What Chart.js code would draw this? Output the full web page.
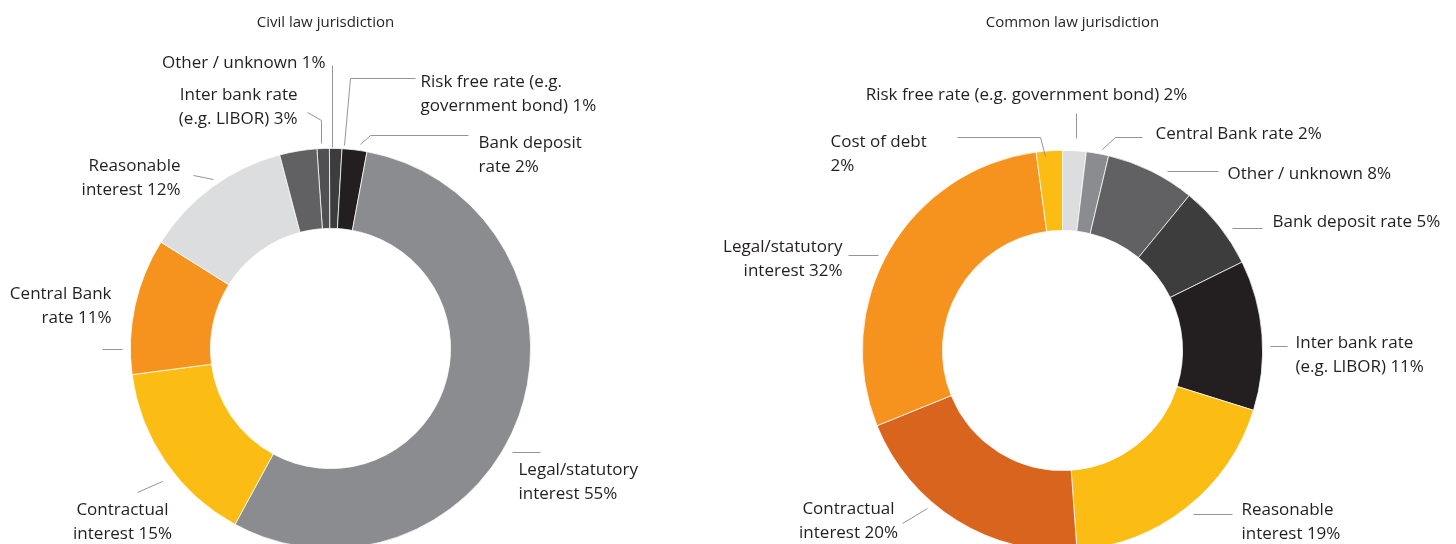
<!DOCTYPE html>
<html>
<head>
<meta charset="utf-8">
<title>Interest rate basis by jurisdiction</title>
<script src="https://cdn.jsdelivr.net/npm/chart.js@4.4.1/dist/chart.umd.min.js"></script>
<style>
  html, body { margin: 0; padding: 0; background: #fff; }
  body { width: 1456px; height: 544px; overflow: hidden; position: relative; }
  canvas { position: absolute; top: 0; }
  #civil { left: 0; }
  #common { left: 680px; }
</style>
</head>
<body>
<canvas id="civil" width="680" height="600"></canvas>
<canvas id="common" width="776" height="600"></canvas>

<script>
// --- data ---
const civilTitle = 'Civil law jurisdiction';
const civilLabels = [
  'Other / unknown 1%',
  'Risk free rate (e.g.\ngovernment bond) 1%',
  'Bank deposit\nrate 2%',
  'Legal/statutory\ninterest 55%',
  'Contractual\ninterest 15%',
  'Central Bank\nrate 11%',
  'Reasonable\ninterest 12%',
  'Inter bank rate\n(e.g. LIBOR) 3%'
];
const civilValues = [1, 1, 2, 55, 15, 11, 12, 3];

const commonTitle = 'Common law jurisdiction';
const commonLabels = [
  'Risk free rate (e.g. government bond) 2%',
  'Central Bank rate 2%',
  'Other / unknown 8%',
  'Bank deposit rate 5%',
  'Inter bank rate\n(e.g. LIBOR) 11%',
  'Reasonable\ninterest 19%',
  'Contractual\ninterest 20%',
  'Legal/statutory\ninterest 32%',
  'Cost of debt\n2%'
];
// slice sizes as drawn in the picture (printed percentages don't quite add up)
const commonValues = [1.9, 1.8, 7.2, 6.8, 12.1, 19, 20, 29, 2.1];

// --- styles ---
const civilColors = ['#505052', '#3c3c3e', '#231f20', '#8b8c8f', '#fbbd14', '#f6921e', '#dcdddf', '#616163'];
const commonColors = ['#dcdddf', '#8b8c8f', '#616163', '#3d3d3e', '#231f20', '#fbbd14', '#d9641e', '#f6921e', '#fbbd14'];

const textColor = '#231f20';
const leaderColor = '#939598';
const labelFont = '17px "Open Sans"';
const titleFont = '15px "Open Sans"';
const lineH = 24;

// label placement, offsets from the doughnut centre: [x, y, align, leader points]
const civilCallouts = [
  [-5, -285, 'right', [[2, -283], [2, -201]]],
  [90, -266, 'left', [[14, -203], [20, -270], [85, -270]]],
  [148, -205, 'left', [[30, -204], [40, -213], [138, -213]]],
  [188, 122, 'left', [[182, 104], [210, 104]]],
  [-208, 162, 'center', [[-193, 144], [-168, 133]]],
  [-219, -54, 'right', [[-228, 1], [-208, 1]]],
  [-150, -182, 'right', [[-137, -173], [-117, -169]]],
  [-33, -253, 'right', [[-23, -236], [-9, -228], [-9, -205]]]
];
const commonCallouts = [
  [-36, -255, 'center', [[14, -237], [14, -212]]],
  [93, -216, 'left', [[40, -201], [53, -213], [80, -213]]],
  [165, -176, 'left', [[105, -179], [156, -179]]],
  [210, -128, 'left', [[170, -122], [200, -122]]],
  [233, -7, 'left', [[208, -4], [225, -4]]],
  [179, 160, 'left', [[131, 164], [170, 164]]],
  [-214, 159, 'center', [[-160, 173], [-135, 158]]],
  [-220, -103, 'right', [[-214, -95], [-184, -95]]],
  [-232, -208, 'left', [[-105, -213], [-22, -213], [-17, -194]]]
];

const calloutPlugin = {
  id: 'callouts',
  afterDraw(chart, args, opts) {
    const ctx = chart.ctx;
    const arc = chart.getDatasetMeta(0).data[0];
    const cx = arc.x, cy = arc.y;
    ctx.save();

    // title
    ctx.font = titleFont;
    ctx.fillStyle = textColor;
    ctx.textAlign = 'center';
    ctx.textBaseline = 'middle';
    ctx.fillText(opts.title, cx + opts.titleDx, cy + opts.titleDy);

    ctx.strokeStyle = leaderColor;
    ctx.lineWidth = 1;
    ctx.font = labelFont;
    chart.data.labels.forEach((label, i) => {
      const [tx, ty, align, pts] = opts.callouts[i];
      ctx.beginPath();
      pts.forEach(([px, py], j) => {
        if (j === 0) ctx.moveTo(cx + px, cy + py);
        else ctx.lineTo(cx + px, cy + py);
      });
      ctx.stroke();
      ctx.textAlign = align;
      label.split('\n').forEach((line, k) => {
        ctx.fillText(line, cx + tx, cy + ty + k * lineH);
      });
    });
    ctx.restore();
  }
};

function makeDoughnut(id, labels, values, colors, rotation, padding, calloutOpts) {
  return new Chart(document.getElementById(id), {
    type: 'doughnut',
    data: {
      labels: labels,
      datasets: [{
        data: values,
        backgroundColor: colors,
        borderColor: '#ffffff',
        borderWidth: 0.75,
        hoverOffset: 0
      }]
    },
    options: {
      responsive: false,
      animation: false,
      cutout: '60%',
      rotation: rotation,
      layout: { padding: padding },
      plugins: {
        legend: { display: false },
        tooltip: { enabled: false },
        callouts: calloutOpts
      }
    },
    plugins: [calloutPlugin]
  });
}

document.fonts.load(labelFont).then(() => {
  makeDoughnut('civil', civilLabels, civilValues, civilColors, -3.9,
    { left: 130, top: 148, right: 149, bottom: 51 },
    { title: civilTitle, titleDx: -5, titleDy: -326, callouts: civilCallouts });
  makeDoughnut('common', commonLabels, commonValues, commonColors, 0,
    { left: 182, top: 150, right: 193, bottom: 49 },
    { title: commonTitle, titleDx: 10, titleDy: -328, callouts: commonCallouts });
});
</script>
</body>
</html>
